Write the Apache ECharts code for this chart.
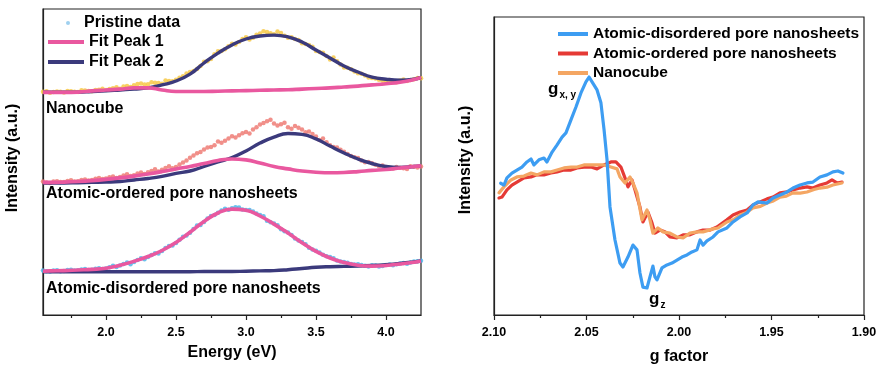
<!DOCTYPE html>
<html>
<head>
<meta charset="utf-8">
<script src="https://cdn.jsdelivr.net/npm/echarts@6/dist/echarts.min.js"></script>
<style>
html,body{margin:0;padding:0;background:#fff;}
#chart{width:883px;height:374px;}
</style>
</head>
<body>
<div id="chart"></div>
<script>
// ---------- Left panel: PL fitting (stacked, offset intensities) ----------
const fitEnergy = [1.55,1.6,1.7,1.8,1.9,2.0,2.1,2.2,2.3,2.4,2.5,2.6,2.7,2.8,2.9,3.0,3.1,3.2,3.3,3.4,3.5,3.6,3.7,3.8,3.9,4.0,4.1,4.2,4.25];
const nanoPeak1 = [74.2,74.2,74.2,74.3,74.7,75.0,75.3,75.7,75.7,75.0,74.5,74.5,74.5,74.6,74.7,74.8,74.9,75.0,75.1,75.3,75.5,75.7,76.0,76.3,76.7,77.1,77.6,78.5,79.2];
const nanoPeak2 = [74.3,74.3,74.3,74.3,74.5,74.7,75.0,75.3,75.7,76.7,78.0,80.3,84.0,87.3,90.0,92.0,93.0,93.3,92.7,91.0,88.3,85.7,83.0,81.0,79.3,78.6,78.3,78.6,79.2];
const orderedPeak1 = [44.2,44.2,44.3,44.5,44.8,45.2,45.7,46.3,47.0,47.8,48.7,49.5,50.5,51.5,52.0,51.7,50.7,49.5,48.7,48.0,47.6,47.4,47.5,47.8,48.2,48.5,49.0,49.5,49.7];
const orderedPeak2 = [44.0,44.0,44.0,44.1,44.2,44.3,44.5,45.0,45.5,46.2,47.2,48.0,49.5,51.0,52.5,54.7,57.3,59.3,60.5,60.2,58.7,56.3,54.0,52.0,50.5,49.5,49.2,49.5,49.7];
const disorderedPeak1 = [14.6,14.7,14.8,15.0,15.2,15.6,16.6,17.9,19.5,21.5,24.2,27.6,31.2,34.0,35.3,34.9,33.0,30.3,27.3,24.1,21.2,19.0,17.5,16.6,16.3,16.5,17.0,17.6,18.0];
const disorderedPeak2 = [14.4,14.4,14.4,14.4,14.4,14.4,14.4,14.4,14.4,14.4,14.4,14.4,14.5,14.5,14.5,14.6,14.7,14.8,15.1,15.5,15.9,16.1,16.2,16.3,16.5,16.8,17.2,17.7,18.0];

// pristine data points (two interleaved sets)
const dataEnergy = [1.55,1.60,1.65,1.70,1.75,1.80,1.85,1.90,1.95,2.00,2.05,2.10,2.15,2.20,2.25,2.30,2.35,2.40,2.45,2.50,2.55,2.60,2.65,2.70,2.75,2.80,2.85,2.90,2.95,3.00,3.05,3.10,3.15,3.20,3.25,3.30,3.35,3.40,3.45,3.50,3.55,3.60,3.65,3.70,3.75,3.80,3.85,3.90,3.95,4.00,4.05,4.10,4.15,4.20,4.25];
const nanoData = [74.4,74.1,74.5,74.2,74.6,74.3,74.8,74.6,75.1,75.0,75.6,75.4,76.3,76.6,77.2,76.9,77.4,77.1,78.0,78.4,79.6,81.0,82.0,84.4,85.3,87.9,88.6,90.4,91.0,92.6,92.4,93.8,94.3,93.6,94.0,92.4,92.0,90.6,90.0,88.0,87.4,85.2,84.6,82.5,81.9,80.6,79.8,79.0,78.4,78.0,77.8,78.2,78.0,78.6,78.9];
const orderedData = [44.5,44.0,44.6,44.3,44.9,44.6,45.2,45.0,45.7,45.5,46.2,46.0,46.9,46.6,47.5,47.6,48.6,48.4,49.6,49.3,50.8,52.4,53.9,55.2,56.0,57.8,58.1,59.6,59.9,61.0,61.8,63.5,64.6,63.8,63.6,62.6,63.0,61.8,61.2,59.5,58.8,56.6,55.8,54.4,53.0,52.3,50.9,50.6,49.6,49.3,48.8,49.1,48.7,49.4,49.5];
const disorderedData = [14.8,14.5,14.9,14.7,15.1,14.9,15.3,15.1,15.6,15.5,16.4,16.5,17.5,17.7,18.9,19.3,20.6,21.3,23.0,24.0,26.1,27.4,29.8,31.0,33.0,34.1,35.4,35.6,35.8,35.0,34.5,33.3,31.4,30.5,28.6,27.5,25.5,24.3,22.4,21.4,20.1,19.3,18.2,17.7,17.0,16.9,16.4,16.6,16.2,16.7,16.6,17.2,17.1,17.8,18.1];
const dataEnergyB = [1.575,1.625,1.675,1.725,1.775,1.825,1.875,1.925,1.975,2.025,2.075,2.125,2.175,2.225,2.275,2.325,2.375,2.425,2.475,2.525,2.575,2.625,2.675,2.725,2.775,2.825,2.875,2.925,2.975,3.025,3.075,3.125,3.175,3.225,3.275,3.325,3.375,3.425,3.475,3.525,3.575,3.625,3.675,3.725,3.775,3.825,3.875,3.925,3.975,4.025,4.075,4.125,4.175,4.225];
const nanoDataB = [74.6,74.3,74.4,74.7,74.4,74.9,74.7,75.0,75.4,75.3,75.9,76.2,76.0,77.0,76.8,77.6,77.3,78.2,77.9,79.1,80.5,81.3,83.0,84.6,86.9,88.0,89.6,90.2,92.0,91.8,93.4,94.6,93.9,94.5,93.1,92.6,91.7,90.3,89.4,87.7,86.3,85.8,83.5,82.4,81.2,80.4,79.2,78.8,78.1,78.3,77.6,78.5,78.3,79.0];
const orderedDataB = [44.2,44.5,44.3,44.7,44.5,45.0,44.8,45.4,45.3,45.9,45.7,46.5,46.3,47.2,47.0,48.0,47.8,49.0,48.9,50.2,51.5,53.2,54.3,55.8,56.6,57.4,58.8,59.2,60.6,60.5,62.6,64.0,65.1,63.2,64.1,62.1,62.4,60.9,60.3,58.3,57.6,56.0,55.1,53.7,52.6,51.5,51.0,50.1,49.8,48.9,49.3,48.9,49.6,49.2];
const disorderedDataB = [14.6,14.8,14.6,15.0,14.8,15.2,15.0,15.4,15.3,15.9,16.0,17.0,16.9,18.3,18.6,20.0,20.5,22.3,23.2,25.1,26.5,28.7,30.0,32.2,33.3,34.8,35.1,35.9,35.2,35.0,33.8,32.9,30.9,29.9,27.9,26.7,24.8,23.6,21.8,20.8,19.6,18.9,17.8,17.4,16.8,16.7,16.2,16.5,16.3,16.8,16.9,17.3,17.5,17.9];

const energyMajorTicks = [2.0,2.5,3.0,3.5,4.0];
const energyMinorTicks = [1.75,2.25,2.75,3.25,3.75];

// ---------- Right panel: EPR ----------
const gBlue = [2.0964,2.0946,2.0930,2.0903,2.0876,2.0849,2.0822,2.0800,2.0784,2.0757,2.0730,2.0714,2.0686,2.0659,2.0632,2.0611,2.0584,2.0557,2.0530,2.0503,2.0486,2.0470,2.0443,2.0422,2.0405,2.0389,2.0373,2.0346,2.0319,2.0303,2.0276,2.0249,2.0227,2.0211,2.0195,2.0173,2.0157,2.0141,2.0130,2.0119,2.0092,2.0065,2.0038,2.0011,1.9984,1.9957,1.9930,1.9903,1.9886,1.9870,1.9849,1.9816,1.9789,1.9741,1.9708,1.9670,1.9632,1.9600,1.9573,1.9524,1.9492,1.9454,1.9416,1.9384,1.9346,1.9308,1.9276,1.9238,1.9200,1.9168,1.9141,1.9114];
const intBlue = [43.9,43.3,45.7,47.3,48.3,49.3,51.0,52.0,50.0,51.7,52.3,51.0,54.3,56.7,59.3,60.7,65.0,69.3,74.0,77.7,79.3,77.7,75.0,70.7,61.7,51.7,36.0,25.0,17.3,16.0,19.3,23.3,21.7,14.0,9.3,9.0,12.7,16.3,12.7,11.7,15.7,16.7,17.3,18.3,19.3,20.0,21.0,21.7,25.0,23.3,24.7,26.0,27.7,29.0,31.0,32.7,34.0,36.7,37.7,37.3,39.0,40.0,41.0,42.3,43.3,44.0,44.3,46.0,46.7,47.7,48.0,47.3];
const gRed = [2.0973,2.0957,2.0930,2.0903,2.0876,2.0838,2.0800,2.0768,2.0730,2.0692,2.0659,2.0622,2.0584,2.0551,2.0514,2.0476,2.0443,2.0405,2.0368,2.0341,2.0314,2.0292,2.0276,2.0254,2.0238,2.0211,2.0195,2.0168,2.0146,2.0130,2.0103,2.0076,2.0049,2.0011,1.9978,1.9941,1.9903,1.9870,1.9832,1.9795,1.9741,1.9708,1.9670,1.9632,1.9600,1.9562,1.9524,1.9492,1.9454,1.9416,1.9384,1.9346,1.9308,1.9276,1.9238,1.9200,1.9173,1.9146,1.9119];
const intRed = [39.0,39.3,41.7,43.3,44.3,45.7,46.0,46.7,46.7,47.3,47.7,48.3,48.3,49.0,49.3,49.3,48.7,50.0,51.0,51.0,49.3,45.7,42.7,45.0,41.7,36.0,31.0,34.3,30.7,27.3,28.3,27.7,26.0,25.7,26.7,26.7,27.7,28.3,28.3,29.3,31.7,33.3,34.3,35.0,36.7,37.7,38.7,39.3,40.7,41.0,41.7,42.3,42.7,42.3,43.3,44.0,45.0,44.0,44.3];
const gOrange = [2.0973,2.0946,2.0908,2.0876,2.0838,2.0800,2.0768,2.0730,2.0692,2.0659,2.0622,2.0584,2.0551,2.0514,2.0476,2.0443,2.0405,2.0368,2.0335,2.0319,2.0292,2.0265,2.0249,2.0227,2.0200,2.0173,2.0157,2.0141,2.0114,2.0086,2.0049,2.0011,1.9978,1.9941,1.9903,1.9870,1.9816,1.9789,1.9741,1.9705,1.9670,1.9635,1.9600,1.9560,1.9524,1.9490,1.9454,1.9420,1.9384,1.9345,1.9308,1.9270,1.9238,1.9200,1.9168,1.9119];
const intOrange = [40.7,42.7,45.0,46.0,46.3,47.3,46.7,47.7,47.7,48.3,49.0,49.3,49.3,50.0,50.0,50.0,50.0,49.3,48.7,46.0,44.0,46.0,44.0,40.7,31.7,35.0,31.7,27.3,29.0,27.7,27.3,26.0,25.7,27.3,27.7,27.7,28.7,29.0,31.0,31.8,33.3,34.2,35.7,36.2,37.3,38.0,39.3,39.6,40.7,40.6,41.0,41.8,42.3,42.6,43.3,44.0];

function zip(xs, ys){ return xs.map((x,i)=>[x, ys[i]]); }

const FONT = '"Liberation Sans", Arial, sans-serif';
const PINK = '#e9589f', NAVY = '#3b3a7c';
const C_BLUE = '#3d9df2', C_RED = '#e53a35', C_ORANGE = '#f4a663';

function fitLine(name, data, color, w){
  return {name, type:'line', xAxisIndex:0, yAxisIndex:0, data: zip(fitEnergy, data), smooth:true, showSymbol:false, symbol:'none',
    lineStyle:{color, width:w}, itemStyle:{color}, z:3, silent:true};
}
function dots(xs, data, color){
  return {name:'Pristine data', type:'scatter', xAxisIndex:0, yAxisIndex:0, data: zip(xs, data), symbolSize:4.5,
    itemStyle:{color, opacity:0.85}, z:2, silent:true};
}
function epr(name, g, v, color){
  return {name, type:'line', xAxisIndex:2, yAxisIndex:1, data: zip(g, v), showSymbol:false, symbol:'none',
    lineStyle:{color, width:3.2, join:'round', cap:'round'}, itemStyle:{color}, silent:true};
}

const chart = echarts.init(document.getElementById('chart'), null, {renderer:'canvas'});
const axisTxt = {color:'#000', fontWeight:'bold', fontFamily:FONT, fontSize:12.5};
const nameTxt = {color:'#000', fontWeight:'bold', fontFamily:FONT, fontSize:16};

chart.setOption({
  animation:false,
  backgroundColor:'#fff',
  grid:[
    {left:43, right:462, top:9, bottom:59, show:true, borderColor:'#222', borderWidth:1.2, backgroundColor:'transparent'},
    {left:494, right:19, top:17, bottom:59, show:true, borderColor:'#222', borderWidth:1.2, backgroundColor:'transparent'}
  ],
  xAxis:[
    {type:'value', gridIndex:0, min:1.55, max:4.25, position:'bottom',
     axisLine:{show:true, lineStyle:{color:'#222', width:1.2}},
     axisTick:{show:true, length:5, customValues:energyMajorTicks, lineStyle:{color:'#222', width:1.2}},
     axisLabel:{show:true, margin:11, customValues:energyMajorTicks, formatter:v=>v.toFixed(1), ...axisTxt},
     splitLine:{show:false},
     name:'Energy (eV)', nameLocation:'middle', nameGap:30, nameTextStyle:nameTxt},
    {type:'value', gridIndex:0, min:1.55, max:4.25, position:'bottom',
     axisLine:{show:false},
     axisTick:{show:true, length:3, customValues:energyMinorTicks, lineStyle:{color:'#222', width:1.2}},
     axisLabel:{show:false}, splitLine:{show:false}},
    {type:'value', gridIndex:1, min:1.90, max:2.10, interval:0.05, inverse:true, position:'bottom',
     axisLine:{show:true, lineStyle:{color:'#222', width:1.2}},
     axisTick:{show:true, length:5, lineStyle:{color:'#222', width:1.2}},
     minorTick:{show:true, splitNumber:2, length:3, lineStyle:{color:'#222', width:1.2}},
     axisLabel:{show:true, margin:11, formatter:v=>v.toFixed(2), ...axisTxt},
     splitLine:{show:false},
     name:'g factor', nameLocation:'middle', nameGap:34, nameTextStyle:nameTxt}
  ],
  yAxis:[
    {type:'value', gridIndex:0, min:0, max:102,
     axisLine:{show:true, lineStyle:{color:'#222', width:1.2}}, axisTick:{show:false}, axisLabel:{show:false}, splitLine:{show:false},
     name:'Intensity (a.u.)', nameLocation:'middle', nameGap:22, nameTextStyle:{...nameTxt, padding:[0,0,0,8]}},
    {type:'value', gridIndex:1, min:0, max:99.3,
     axisLine:{show:true, lineStyle:{color:'#222', width:1.2}}, axisTick:{show:false}, axisLabel:{show:false}, splitLine:{show:false},
     name:'Intensity (a.u.)', nameLocation:'middle', nameGap:20, nameTextStyle:{...nameTxt, padding:[0,0,0,12]}}
  ],
  legend:[
    {data:[{name:'Pristine data', icon:'circle', itemStyle:{color:'#9fd0ef', opacity:1}}], left:66, top:15, padding:0, orient:'vertical',
     itemWidth:4, itemHeight:4, selectedMode:false, textStyle:{...nameTxt, padding:[0,0,0,9]}},
    {data:[{name:'Fit Peak 1', icon:'rect'}, {name:'Fit Peak 2', icon:'rect'}], left:48, top:34, padding:0, orient:'vertical', itemWidth:36, itemHeight:4, itemGap:4,
     selectedMode:false, textStyle:{...nameTxt}},
    {data:[{name:'Atomic-disordered pore nanosheets', icon:'rect'},{name:'Atomic-ordered pore nanosheets', icon:'rect'},{name:'Nanocube', icon:'rect'}], left:558, top:26, padding:0, orient:'vertical',
     itemWidth:30, itemHeight:4, itemGap:3.5, selectedMode:false, textStyle:{...nameTxt, fontSize:15.5}}
  ],
  graphic:[
    {type:'text', left:46, top:101, style:{text:'Nanocube', fill:'#000', font:'bold 16px '+FONT}},
    {type:'text', left:46, top:186, style:{text:'Atomic-ordered pore nanosheets', fill:'#000', font:'bold 16px '+FONT}},
    {type:'text', left:46, top:281, style:{text:'Atomic-disordered pore nanosheets', fill:'#000', font:'bold 16px '+FONT}},
    {type:'text', left:548, top:81, style:{text:'{a|g}{b|x, y}', rich:{a:{fill:'#000', font:'bold 17px '+FONT, verticalAlign:'bottom'}, b:{fill:'#000', font:'bold 10px '+FONT, verticalAlign:'bottom', padding:[0,0,-2,1]}}}},
    {type:'text', left:649, top:291, style:{text:'{a|g}{b|z}', rich:{a:{fill:'#000', font:'bold 17px '+FONT, verticalAlign:'bottom'}, b:{fill:'#000', font:'bold 10px '+FONT, verticalAlign:'bottom', padding:[0,0,-2,1]}}}}
  ],
  series:[
    dots(dataEnergy, nanoData, '#f7c948'),
    dots(dataEnergyB, nanoDataB, '#f7c948'),
    dots(dataEnergy, orderedData, '#ef7d76'),
    dots(dataEnergyB, orderedDataB, '#ef7d76'),
    dots(dataEnergy, disorderedData, '#4db6ea'),
    dots(dataEnergyB, disorderedDataB, '#4db6ea'),
    fitLine('Fit Peak 2', nanoPeak2, NAVY, 3.4),
    fitLine('Fit Peak 2', orderedPeak2, NAVY, 3.4),
    fitLine('Fit Peak 2', disorderedPeak2, NAVY, 3.4),
    fitLine('Fit Peak 1', nanoPeak1, PINK, 3.6),
    fitLine('Fit Peak 1', orderedPeak1, PINK, 3.6),
    fitLine('Fit Peak 1', disorderedPeak1, PINK, 3.6),
    epr('Atomic-ordered pore nanosheets', gRed, intRed, C_RED),
    epr('Nanocube', gOrange, intOrange, C_ORANGE),
    epr('Atomic-disordered pore nanosheets', gBlue, intBlue, C_BLUE)
  ]
});
</script>
</body>
</html>
